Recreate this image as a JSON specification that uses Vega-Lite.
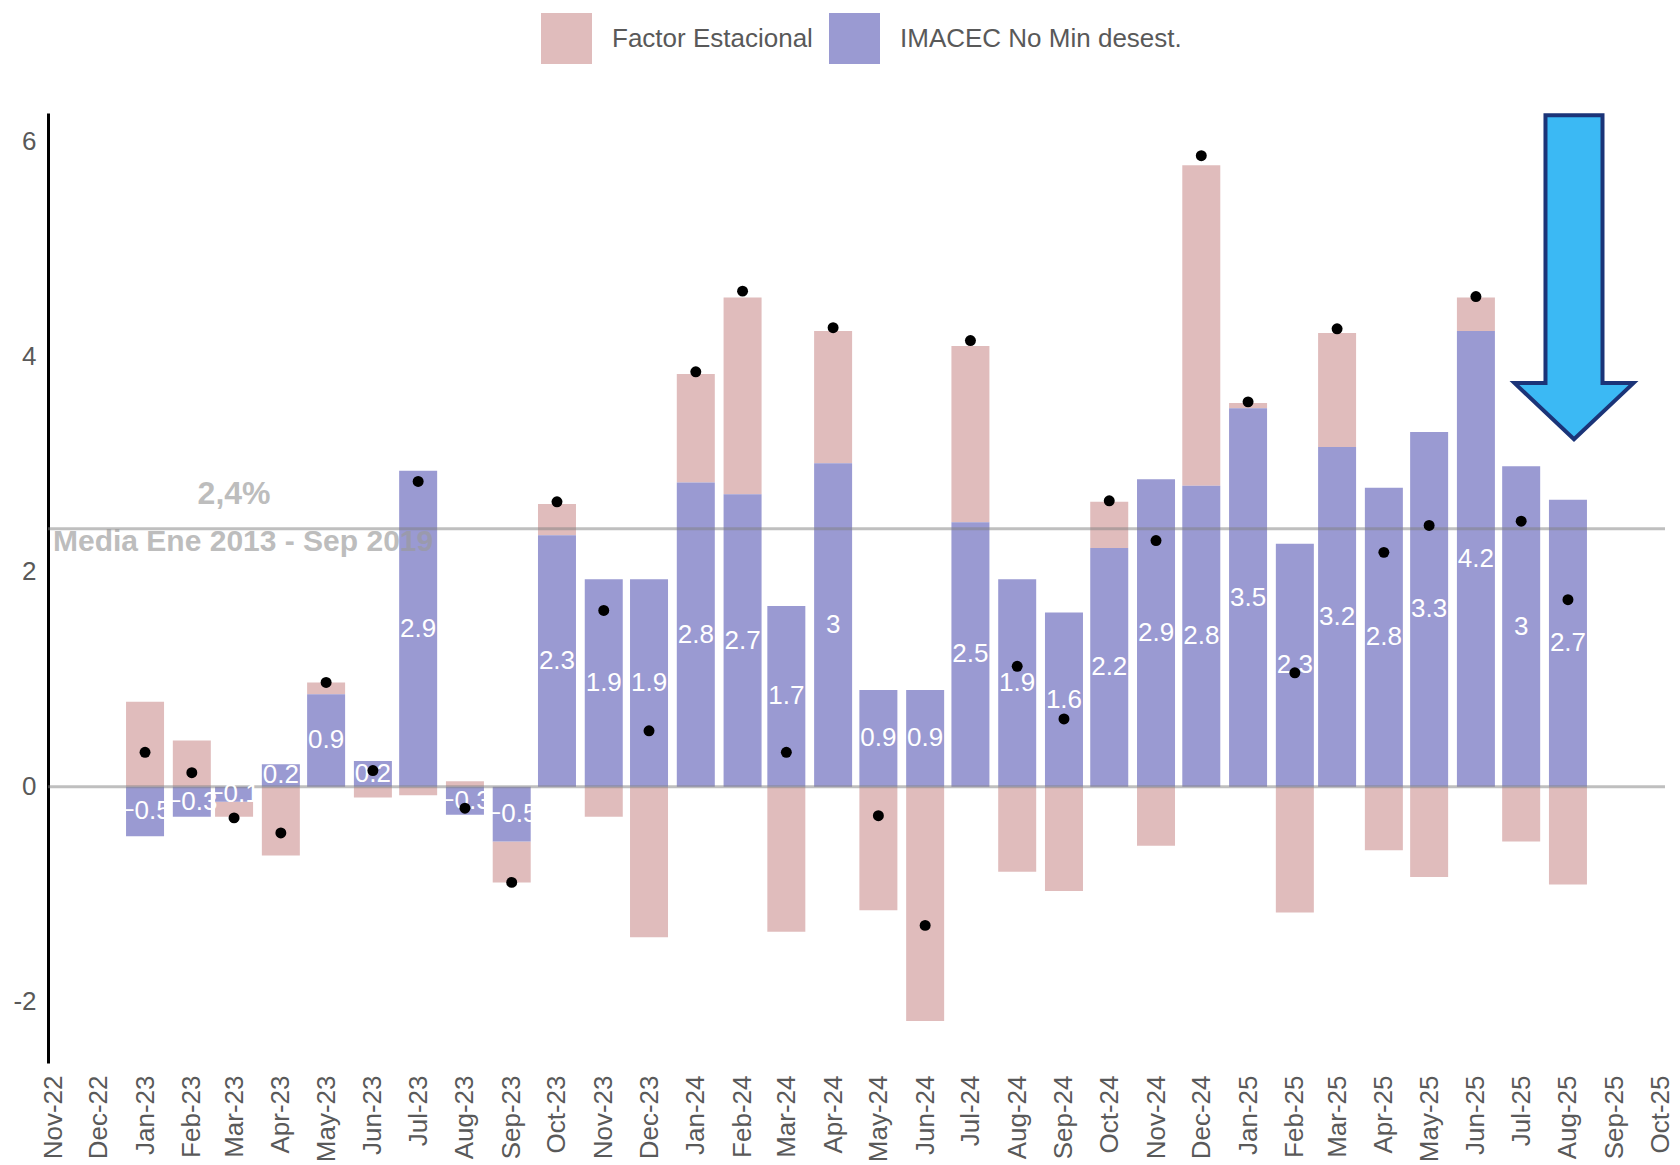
{
  "$schema": "https://vega.github.io/schema/vega-lite/v6.json",
  "width": 1617,
  "height": 950,
  "autosize": {"type": "none"},
  "padding": {"left": 48, "top": 113, "right": 15, "bottom": 102},
  "background": "white",
  "config": {"view": {"stroke": null}, "font": "Liberation Sans"},
  "datasets": {
    "barras": [
      {"mes": "2023-01-01", "serie": "Factor Estacional", "valor": 0.79},
      {"mes": "2023-01-01", "serie": "IMACEC No Min desest.", "valor": -0.46},
      {"mes": "2023-02-01", "serie": "Factor Estacional", "valor": 0.43},
      {"mes": "2023-02-01", "serie": "IMACEC No Min desest.", "valor": -0.28},
      {"mes": "2023-03-01", "serie": "Factor Estacional", "valor": -0.14},
      {"mes": "2023-03-01", "serie": "IMACEC No Min desest.", "valor": -0.14},
      {"mes": "2023-04-01", "serie": "Factor Estacional", "valor": -0.64},
      {"mes": "2023-04-01", "serie": "IMACEC No Min desest.", "valor": 0.21},
      {"mes": "2023-05-01", "serie": "Factor Estacional", "valor": 0.11},
      {"mes": "2023-05-01", "serie": "IMACEC No Min desest.", "valor": 0.86},
      {"mes": "2023-06-01", "serie": "Factor Estacional", "valor": -0.10},
      {"mes": "2023-06-01", "serie": "IMACEC No Min desest.", "valor": 0.24},
      {"mes": "2023-07-01", "serie": "Factor Estacional", "valor": -0.08},
      {"mes": "2023-07-01", "serie": "IMACEC No Min desest.", "valor": 2.94},
      {"mes": "2023-08-01", "serie": "Factor Estacional", "valor": 0.05},
      {"mes": "2023-08-01", "serie": "IMACEC No Min desest.", "valor": -0.26},
      {"mes": "2023-09-01", "serie": "Factor Estacional", "valor": -0.38},
      {"mes": "2023-09-01", "serie": "IMACEC No Min desest.", "valor": -0.51},
      {"mes": "2023-10-01", "serie": "Factor Estacional", "valor": 0.29},
      {"mes": "2023-10-01", "serie": "IMACEC No Min desest.", "valor": 2.34},
      {"mes": "2023-11-01", "serie": "Factor Estacional", "valor": -0.28},
      {"mes": "2023-11-01", "serie": "IMACEC No Min desest.", "valor": 1.93},
      {"mes": "2023-12-01", "serie": "Factor Estacional", "valor": -1.40},
      {"mes": "2023-12-01", "serie": "IMACEC No Min desest.", "valor": 1.93},
      {"mes": "2024-01-01", "serie": "Factor Estacional", "valor": 1.01},
      {"mes": "2024-01-01", "serie": "IMACEC No Min desest.", "valor": 2.83},
      {"mes": "2024-02-01", "serie": "Factor Estacional", "valor": 1.83},
      {"mes": "2024-02-01", "serie": "IMACEC No Min desest.", "valor": 2.72},
      {"mes": "2024-03-01", "serie": "Factor Estacional", "valor": -1.35},
      {"mes": "2024-03-01", "serie": "IMACEC No Min desest.", "valor": 1.68},
      {"mes": "2024-04-01", "serie": "Factor Estacional", "valor": 1.23},
      {"mes": "2024-04-01", "serie": "IMACEC No Min desest.", "valor": 3.01},
      {"mes": "2024-05-01", "serie": "Factor Estacional", "valor": -1.15},
      {"mes": "2024-05-01", "serie": "IMACEC No Min desest.", "valor": 0.90},
      {"mes": "2024-06-01", "serie": "Factor Estacional", "valor": -2.18},
      {"mes": "2024-06-01", "serie": "IMACEC No Min desest.", "valor": 0.90},
      {"mes": "2024-07-01", "serie": "Factor Estacional", "valor": 1.64},
      {"mes": "2024-07-01", "serie": "IMACEC No Min desest.", "valor": 2.46},
      {"mes": "2024-08-01", "serie": "Factor Estacional", "valor": -0.79},
      {"mes": "2024-08-01", "serie": "IMACEC No Min desest.", "valor": 1.93},
      {"mes": "2024-09-01", "serie": "Factor Estacional", "valor": -0.97},
      {"mes": "2024-09-01", "serie": "IMACEC No Min desest.", "valor": 1.62},
      {"mes": "2024-10-01", "serie": "Factor Estacional", "valor": 0.43},
      {"mes": "2024-10-01", "serie": "IMACEC No Min desest.", "valor": 2.22},
      {"mes": "2024-11-01", "serie": "Factor Estacional", "valor": -0.55},
      {"mes": "2024-11-01", "serie": "IMACEC No Min desest.", "valor": 2.86},
      {"mes": "2024-12-01", "serie": "Factor Estacional", "valor": 2.98},
      {"mes": "2024-12-01", "serie": "IMACEC No Min desest.", "valor": 2.80},
      {"mes": "2025-01-01", "serie": "Factor Estacional", "valor": 0.05},
      {"mes": "2025-01-01", "serie": "IMACEC No Min desest.", "valor": 3.52},
      {"mes": "2025-02-01", "serie": "Factor Estacional", "valor": -1.17},
      {"mes": "2025-02-01", "serie": "IMACEC No Min desest.", "valor": 2.26},
      {"mes": "2025-03-01", "serie": "Factor Estacional", "valor": 1.06},
      {"mes": "2025-03-01", "serie": "IMACEC No Min desest.", "valor": 3.16},
      {"mes": "2025-04-01", "serie": "Factor Estacional", "valor": -0.59},
      {"mes": "2025-04-01", "serie": "IMACEC No Min desest.", "valor": 2.78},
      {"mes": "2025-05-01", "serie": "Factor Estacional", "valor": -0.84},
      {"mes": "2025-05-01", "serie": "IMACEC No Min desest.", "valor": 3.30},
      {"mes": "2025-06-01", "serie": "Factor Estacional", "valor": 0.31},
      {"mes": "2025-06-01", "serie": "IMACEC No Min desest.", "valor": 4.24},
      {"mes": "2025-07-01", "serie": "Factor Estacional", "valor": -0.51},
      {"mes": "2025-07-01", "serie": "IMACEC No Min desest.", "valor": 2.98},
      {"mes": "2025-08-01", "serie": "Factor Estacional", "valor": -0.91},
      {"mes": "2025-08-01", "serie": "IMACEC No Min desest.", "valor": 2.67}
    ],
    "puntos": [
      {"mes": "2023-01-01", "valor": 0.32},
      {"mes": "2023-02-01", "valor": 0.13},
      {"mes": "2023-03-01", "valor": -0.29},
      {"mes": "2023-04-01", "valor": -0.43},
      {"mes": "2023-05-01", "valor": 0.97},
      {"mes": "2023-06-01", "valor": 0.15},
      {"mes": "2023-07-01", "valor": 2.84},
      {"mes": "2023-08-01", "valor": -0.20},
      {"mes": "2023-09-01", "valor": -0.89},
      {"mes": "2023-10-01", "valor": 2.65},
      {"mes": "2023-11-01", "valor": 1.64},
      {"mes": "2023-12-01", "valor": 0.52},
      {"mes": "2024-01-01", "valor": 3.86},
      {"mes": "2024-02-01", "valor": 4.61},
      {"mes": "2024-03-01", "valor": 0.32},
      {"mes": "2024-04-01", "valor": 4.27},
      {"mes": "2024-05-01", "valor": -0.27},
      {"mes": "2024-06-01", "valor": -1.29},
      {"mes": "2024-07-01", "valor": 4.15},
      {"mes": "2024-08-01", "valor": 1.12},
      {"mes": "2024-09-01", "valor": 0.63},
      {"mes": "2024-10-01", "valor": 2.66},
      {"mes": "2024-11-01", "valor": 2.29},
      {"mes": "2024-12-01", "valor": 5.87},
      {"mes": "2025-01-01", "valor": 3.58},
      {"mes": "2025-02-01", "valor": 1.06},
      {"mes": "2025-03-01", "valor": 4.26},
      {"mes": "2025-04-01", "valor": 2.18},
      {"mes": "2025-05-01", "valor": 2.43},
      {"mes": "2025-06-01", "valor": 4.56},
      {"mes": "2025-07-01", "valor": 2.47},
      {"mes": "2025-08-01", "valor": 1.74}
    ]
  },
  "layer": [
    {
      "data": {"name": "barras"},
      "mark": {"type": "bar", "width": 38},
      "encoding": {
        "x": {
          "field": "mes",
          "type": "temporal",
          "scale": {
            "type": "utc",
            "domain": [
              {"year": 2022, "month": 11, "date": 1, "utc": true},
              {"year": 2025, "month": 10, "date": 1, "utc": true}
            ]
          },
          "axis": {"title": null, "labelExpr": "utcFormat(datum.value, '%b-%y')", "tickCount": {"interval": "month", "step": 1}, "labelAngle": -90, "labelFontSize": 26, "labelColor": "#595959", "labelPadding": 12, "labelOverlap": false, "labelFlush": false, "labelBound": false, "domain": false, "ticks": false, "grid": false}
        },
        "y": {
          "field": "valor",
          "type": "quantitative",
          "stack": "zero",
          "scale": {"domain": [-2.57, 6.267], "nice": false, "zero": false},
          "axis": {"title": null, "values": [-2, 0, 2, 4, 6], "labelExpr": "'' + datum.value", "labelFontSize": 26, "labelColor": "#595959", "labelPadding": 12, "domainColor": "black", "domainWidth": 3, "ticks": false, "grid": false}
        },
        "color": {
          "field": "serie",
          "type": "nominal",
          "scale": {
            "domain": ["Factor Estacional", "IMACEC No Min desest."],
            "range": ["#e0bcbc", "#9a9ad2"]
          },
          "legend": {
            "title": null,
            "orient": "none",
            "legendX": 493,
            "legendY": -100,
            "direction": "horizontal",
            "symbolType": "square",
            "symbolSize": 2601,
            "symbolStrokeWidth": 0,
            "symbolOpacity": 1,
            "labelFontSize": 26,
            "labelColor": "#595959",
            "labelOffset": 20,
            "columnPadding": 16,
            "padding": 0,
            "labelLimit": 400
          }
        },
        "order": {"field": "serie", "sort": "descending"}
      }
    },
    {
      "data": {"values": [{"valor": 0}, {"valor": 2.4}]},
      "mark": {"type": "rule", "color": "#7f7f7f", "opacity": 0.5, "strokeWidth": 3},
      "encoding": {
        "y": {"field": "valor", "type": "quantitative", "axis": {"title": null, "values": [-2, 0, 2, 4, 6], "labelExpr": "'' + datum.value", "labelFontSize": 26, "labelColor": "#595959", "labelPadding": 12, "domainColor": "black", "domainWidth": 3, "ticks": false, "grid": false}}
      }
    },
    {
      "data": {"name": "barras"},
      "transform": [{"filter": "datum.serie == 'IMACEC No Min desest.'"}],
      "mark": {"type": "text", "color": "white", "fontSize": 26, "baseline": "middle", "align": "center"},
      "encoding": {
        "x": {"field": "mes", "type": "temporal", "axis": {"title": null, "labelExpr": "utcFormat(datum.value, '%b-%y')", "tickCount": {"interval": "month", "step": 1}, "labelAngle": -90, "labelFontSize": 26, "labelColor": "#595959", "labelPadding": 12, "labelOverlap": false, "labelFlush": false, "labelBound": false, "domain": false, "ticks": false, "grid": false}},
        "y": {"field": "valor", "type": "quantitative", "stack": "zero", "bandPosition": 0.5, "axis": {"title": null, "values": [-2, 0, 2, 4, 6], "labelExpr": "'' + datum.value", "labelFontSize": 26, "labelColor": "#595959", "labelPadding": 12, "domainColor": "black", "domainWidth": 3, "ticks": false, "grid": false}},
        "detail": {"field": "serie"},
        "text": {"field": "valor", "type": "quantitative", "format": ".1~f"}
      }
    },
    {
      "data": {"name": "puntos"},
      "mark": {"type": "point", "filled": true, "color": "black", "size": 120, "opacity": 1},
      "encoding": {
        "x": {"field": "mes", "type": "temporal", "axis": {"title": null, "labelExpr": "utcFormat(datum.value, '%b-%y')", "tickCount": {"interval": "month", "step": 1}, "labelAngle": -90, "labelFontSize": 26, "labelColor": "#595959", "labelPadding": 12, "labelOverlap": false, "labelFlush": false, "labelBound": false, "domain": false, "ticks": false, "grid": false}},
        "y": {"field": "valor", "type": "quantitative", "axis": {"title": null, "values": [-2, 0, 2, 4, 6], "labelExpr": "'' + datum.value", "labelFontSize": 26, "labelColor": "#595959", "labelPadding": 12, "domainColor": "black", "domainWidth": 3, "ticks": false, "grid": false}}
      }
    },
    {
      "data": {"values": [{"mes": "2023-03-01", "valor": 2.72, "texto": "2,4%"}]},
      "mark": {"type": "text", "color": "#9a9a9a", "opacity": 0.65, "fontSize": 32, "fontWeight": "bold", "align": "center", "baseline": "middle"},
      "encoding": {
        "x": {"field": "mes", "type": "temporal", "axis": {"title": null, "labelExpr": "utcFormat(datum.value, '%b-%y')", "tickCount": {"interval": "month", "step": 1}, "labelAngle": -90, "labelFontSize": 26, "labelColor": "#595959", "labelPadding": 12, "labelOverlap": false, "labelFlush": false, "labelBound": false, "domain": false, "ticks": false, "grid": false}},
        "y": {"field": "valor", "type": "quantitative", "axis": {"title": null, "values": [-2, 0, 2, 4, 6], "labelExpr": "'' + datum.value", "labelFontSize": 26, "labelColor": "#595959", "labelPadding": 12, "domainColor": "black", "domainWidth": 3, "ticks": false, "grid": false}},
        "text": {"field": "texto"}
      }
    },
    {
      "data": {"values": [{"mes": "2022-11-01", "valor": 2.28, "texto": "Media Ene 2013 - Sep 2019"}]},
      "mark": {"type": "text", "color": "#9a9a9a", "opacity": 0.65, "fontSize": 30, "fontWeight": "bold", "align": "left", "baseline": "middle"},
      "encoding": {
        "x": {"field": "mes", "type": "temporal", "axis": {"title": null, "labelExpr": "utcFormat(datum.value, '%b-%y')", "tickCount": {"interval": "month", "step": 1}, "labelAngle": -90, "labelFontSize": 26, "labelColor": "#595959", "labelPadding": 12, "labelOverlap": false, "labelFlush": false, "labelBound": false, "domain": false, "ticks": false, "grid": false}},
        "y": {"field": "valor", "type": "quantitative", "axis": {"title": null, "values": [-2, 0, 2, 4, 6], "labelExpr": "'' + datum.value", "labelFontSize": 26, "labelColor": "#595959", "labelPadding": 12, "domainColor": "black", "domainWidth": 3, "ticks": false, "grid": false}},
        "text": {"field": "texto"}
      }
    },
    {
      "data": {"values": [{"mes": "2025-08-05", "valor": 4.74}]},
      "mark": {
        "type": "point",
        "shape": "M -0.176 -1 L 0.176 -1 L 0.176 0.654 L 0.367 0.654 L 0 1 L -0.367 0.654 L -0.176 0.654 Z",
        "size": 104976,
        "filled": true,
        "fill": "#3bb9f4",
        "stroke": "#1b3478",
        "strokeWidth": 4,
        "opacity": 1
      },
      "encoding": {
        "x": {"field": "mes", "type": "temporal", "axis": {"title": null, "labelExpr": "utcFormat(datum.value, '%b-%y')", "tickCount": {"interval": "month", "step": 1}, "labelAngle": -90, "labelFontSize": 26, "labelColor": "#595959", "labelPadding": 12, "labelOverlap": false, "labelFlush": false, "labelBound": false, "domain": false, "ticks": false, "grid": false}},
        "y": {"field": "valor", "type": "quantitative", "axis": {"title": null, "values": [-2, 0, 2, 4, 6], "labelExpr": "'' + datum.value", "labelFontSize": 26, "labelColor": "#595959", "labelPadding": 12, "domainColor": "black", "domainWidth": 3, "ticks": false, "grid": false}}
      }
    }
  ]
}
